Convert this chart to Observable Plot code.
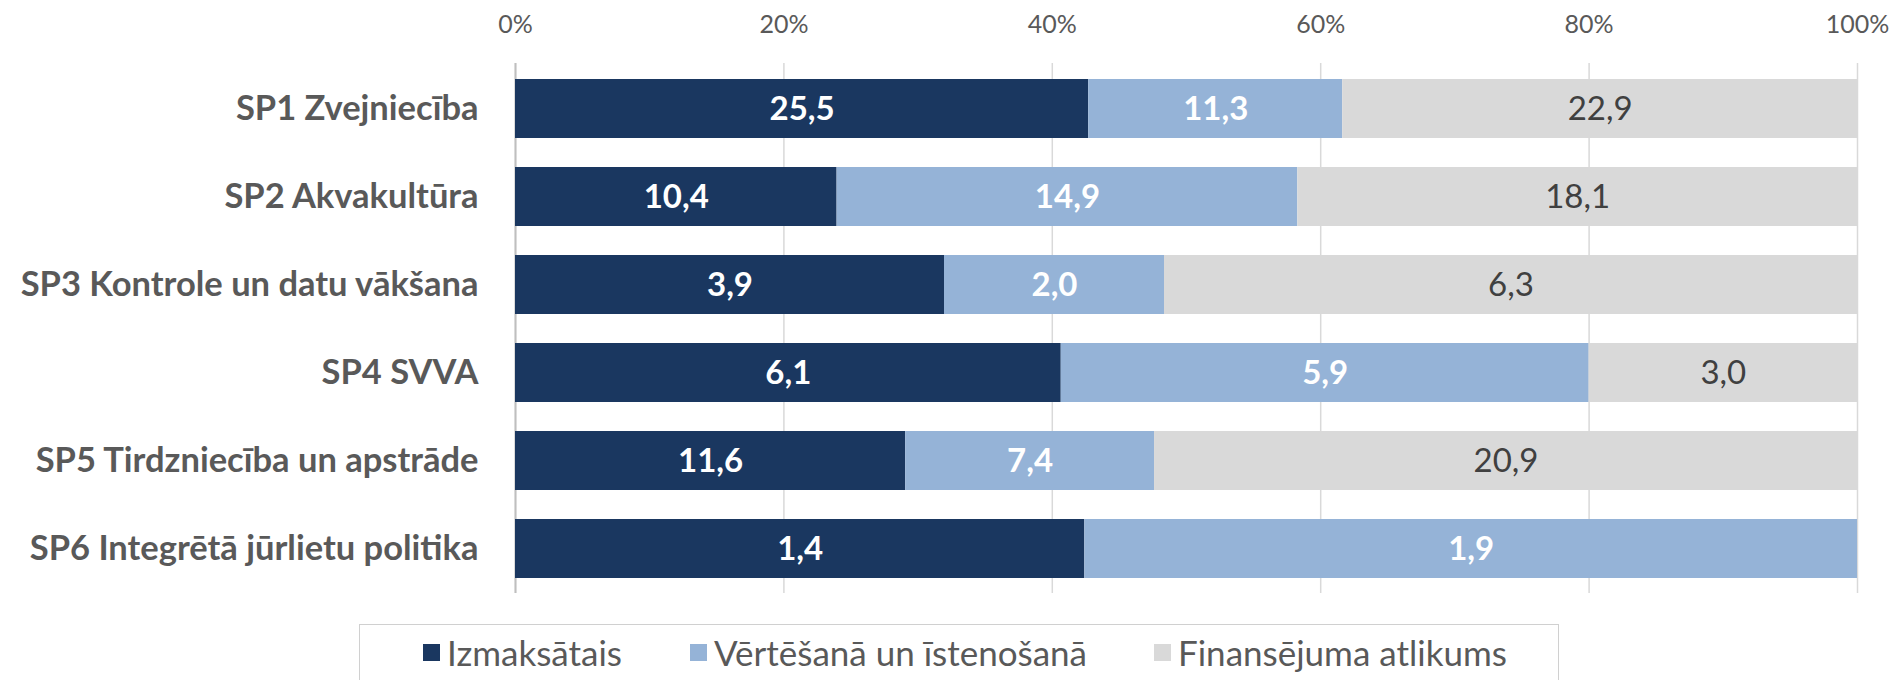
<!DOCTYPE html>
<html>
<head>
<meta charset="utf-8">
<script src="https://cdn.jsdelivr.net/npm/d3@7"></script>
<script src="https://cdn.jsdelivr.net/npm/@observablehq/plot@0.6"></script>
<style>
  html, body { margin: 0; padding: 0; background: #fff; width: 1896px; height: 680px; overflow: hidden; font-family: Lato, "Open Sans", sans-serif; }
  #chart { position: absolute; left: 0; top: 0; }
  #legend { position: absolute; left: 359px; top: 624px; width: 1200px; height: 70px; border: 1px solid #d0d0d0; box-sizing: border-box; }
  .item { position: absolute; top: 6px; display: flex; align-items: center; font-size: 35px; color: #595959; white-space: nowrap; }
  .sw { width: 17px; height: 17px; margin-right: 7px; }
</style>
</head>
<body>
<div id="chart"></div>
<div id="legend"></div>
<script>
const categories = ["SP1 Zvejniecība", "SP2 Akvakultūra", "SP3 Kontrole un datu vākšana", "SP4 SVVA", "SP5 Tirdzniecība un apstrāde", "SP6 Integrētā jūrlietu politika"];
const seriesNames = ["Izmaksātais", "Vērtēšanā un īstenošanā", "Finansējuma atlikums"];
const izmaksatais = [25.5, 10.4, 3.9, 6.1, 11.6, 1.4];
const vertesana = [11.3, 14.9, 2.0, 5.9, 7.4, 1.9];
const atlikums = [22.9, 18.1, 6.3, 3.0, 20.9, 0];
const colors = ["#1a3760", "#95b3d7", "#d9d9d9"];
const tickValues = [0, 0.2, 0.4, 0.6, 0.8, 1];

const seriesValues = [izmaksatais, vertesana, atlikums];
const data = [];
categories.forEach((c, i) => {
  seriesValues.forEach((vals, s) => {
    if (vals[i] > 0) data.push({cat: c, series: seriesNames[s], si: s, value: vals[i]});
  });
});
const fmt = v => v.toFixed(1).replace(".", ",");

const stackOpts = {offset: "normalize", order: seriesNames};

const chart = Plot.plot({
  width: 1896,
  height: 612,
  marginLeft: 515,
  marginRight: 39,
  marginTop: 63,
  marginBottom: 19,
  style: {fontFamily: "Lato, 'Open Sans', sans-serif", background: "#fff"},
  x: {domain: [0, 1]},
  y: {domain: categories, paddingInner: 0.33, paddingOuter: 0.165},
  color: {domain: seriesNames, range: colors},
  marks: [
    Plot.gridX(tickValues, {stroke: "#d9d9d9", strokeOpacity: 1, strokeWidth: 1.5}),
    Plot.ruleX([0], {stroke: "#bfbfbf", strokeWidth: 2}),
    Plot.barX(data, Plot.stackX(stackOpts, {x: "value", y: "cat", z: "series", fill: "series"})),
    Plot.text(data, Plot.stackX(stackOpts, {
      x: "value", y: "cat", z: "series",
      text: d => d.si < 2 ? fmt(d.value) : null,
      fill: "#ffffff", fontWeight: "bold", fontSize: 33
    })),
    Plot.text(data, Plot.stackX(stackOpts, {
      x: "value", y: "cat", z: "series",
      text: d => d.si === 2 ? fmt(d.value) : null,
      fill: "#404040", fontSize: 33
    })),
    Plot.axisX(tickValues, {anchor: "top", tickSize: 0, tickPadding: 31, tickFormat: d => Math.round(d * 100) + "%", fontSize: 25, fill: "#595959", label: null}),
    Plot.axisY({anchor: "left", tickSize: 0, tickPadding: 37, fontSize: 34.5, fontWeight: "bold", fill: "#595959", label: null})
  ]
});
document.getElementById("chart").appendChild(chart);

const legend = document.getElementById("legend");
const lx = [63, 330, 794];
seriesNames.forEach((n, i) => {
  const it = document.createElement("div");
  it.className = "item";
  it.style.left = lx[i] + "px";
  const sw = document.createElement("div");
  sw.className = "sw";
  sw.style.background = colors[i];
  const t = document.createElement("span");
  t.textContent = n;
  it.appendChild(sw);
  it.appendChild(t);
  legend.appendChild(it);
});
</script>
</body>
</html>
